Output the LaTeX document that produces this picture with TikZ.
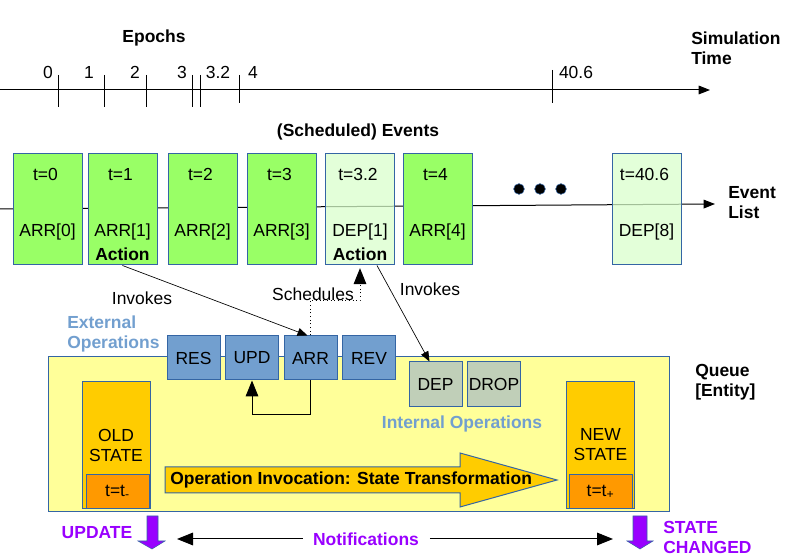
\documentclass[tikz,border=0pt]{standalone}
\usepackage{fontspec}
\setmainfont{Liberation Sans}
\usetikzlibrary{arrows.meta,positioning,calc}

\definecolor{edge}{HTML}{3465A4}
\definecolor{evgreen}{HTML}{99FF66}
\definecolor{palegreen}{HTML}{D9FFCC}
\definecolor{opblue}{HTML}{729FCF}
\definecolor{opgrey}{HTML}{C0CFB8}
\definecolor{queuey}{HTML}{FFFF99}
\definecolor{stateyel}{HTML}{FFCC00}
\definecolor{stateor}{HTML}{FF9900}
\definecolor{purp}{HTML}{9900FF}

\newcommand\dfont{\fontsize{13.1}{15}\selectfont}

\begin{document}
\begin{tikzpicture}[
    x=0.75pt, y=-0.75pt,
    every node/.style={font=\dfont, inner sep=0pt},
    bold/.style={font=\dfont\bfseries},
    evbox/.style={rectangle, draw=edge, line width=0.75pt, fill=evgreen, minimum width=51.75pt, minimum height=83.25pt},
    evpale/.style={evbox, fill=palegreen, fill opacity=0.75, text opacity=1},
    opbox/.style={rectangle, draw=edge, line width=0.75pt, fill=opblue, minimum width=39.75pt, minimum height=33pt},
    inop/.style={opbox, fill=opgrey, minimum height=33.75pt},
    statebox/.style={rectangle, draw=edge, line width=0.75pt, fill=stateyel, minimum width=51pt, minimum height=95.25pt},
    tbox/.style={rectangle, draw=edge, line width=0.75pt, fill=stateor, minimum width=47.25pt, minimum height=25.5pt},
    opstext/.style={font=\dfont\bfseries, text=opblue, align=left},
    note/.style={font=\dfont\bfseries, text=purp, align=left},
    arrow/.style={-{Triangle[length=7.5pt,width=6pt]}, line width=0.5pt},
    bigarrow/.style={-{Triangle[length=12pt,width=9.5pt]}, line width=0.75pt},
    timearrow/.style={-{Triangle[length=8.5pt,width=6.5pt]}, line width=0.75pt}
]
\useasboundingbox (0,0) rectangle (794,559);

% --- Simulation time ---
\node[bold] (epochs) at (154,38) {Epochs};
\node[bold, align=left, anchor=west] (simtime) at (691,48) {Simulation\\Time};
\coordinate (tl0) at (0,90);
\coordinate (tl1) at (710,90);
\draw[timearrow] (tl0) -- (tl1);
\foreach \x/\a/\b in {58/75/107, 104/75/107, 146/75/107, 192/75/107, 200/75/107, 239/75/103, 552/70/103}
    \draw[line width=0.75pt] (\x,\a) -- (\x,\b);
\foreach \lbl/\x [count=\i] in {0/48, 1/89, 2/135, 3/182, 3.2/218, 4/253, 40.6/576}
    \node (ep\i) at (\x,72) {\lbl};

% --- Event list ---
\node[bold] (evtitle) at (358,132) {(Scheduled) Events};
\coordinate (el0) at (0,209);
\coordinate (el1) at (715,204);
\draw[timearrow] (el0) -- (el1);
\node[bold, align=left, anchor=west] (evlist) at (728,203) {Event\\List};

\foreach \n/\x/\st/\t/\e in {ev0/47.5/evbox/0/ARR[0], ev1/122.5/evbox/1/ARR[1], ev2/202.5/evbox/2/ARR[2], ev3/281.5/evbox/3/ARR[3], ev4/360/evpale/3.2/DEP[1], ev5/437.5/evbox/4/ARR[4], ev6/646.5/evpale/40.6/DEP[8]} {
    \node[\st] (\n) at (\x,209.5) {};
    \node (\n-t) at ($(\n.north)+(-2,21)$) {t=\t};
    \node (\n-l) at ($(\n.north)+(0,78)$) {\e};
}
\node[bold] (act1) at ($(ev1.north)+(0,101)$) {Action};
\node[bold] (act4) at ($(ev4.north)+(0,101)$) {Action};

\foreach \x [count=\i] in {519,540,561}
    \node[circle, fill=black, draw=edge, minimum size=8pt] (dot\i) at (\x,189) {};

% --- Queue entity ---
\node[rectangle, draw=edge, line width=0.75pt, fill=queuey, minimum width=465.75pt, minimum height=116.25pt] (queue) at (358.5,434.5) {};
\node[bold, align=left, anchor=west] (qlabel) at (695,382) {Queue\\{[Entity]}};

\node[opstext, anchor=west] (extops) at (67,334) {External\\Operations};
\foreach \n/\x/\s in {res/193.5/RES, upd/252/UPD, aop/310.5/ARR, rev/369/REV}
    \node[opbox] (\n) at (\x,358) {\s};

\node[inop] (dep) at (435.5,384.5) {DEP};
\node[inop] (drop) at (494,384.5) {DROP};
\node[opstext] (intops) at (462,424) {Internal Operations};

% states
\node[statebox] (old) at (116,445.5) {};
\node[align=center] (oldtxt) at (116,445) {OLD\\STATE};
\node[tbox] (oldt) at (117.5,492) {t=t\textsubscript{-}};
\node[statebox] (new) at (600.5,445.5) {};
\node[align=center] (newtxt) at (600.5,445) {NEW\\STATE};
\node[tbox] (newt) at (600.5,492) {t=t\textsubscript{+}};

% transformation arrow
\draw[draw=edge, line width=0.75pt, fill=stateyel] (165,467) -- (460,467) -- (460,453) -- (557,480) -- (460,507) -- (460,493) -- (165,493) -- cycle;
\node[bold, anchor=west] (flowtxt) at (170,480) {Operation Invocation: State Transformation};

% --- Connectors ---
\draw[arrow] (ev1.south) -- ($(aop.north)+(-3,0)$);
\node (inv1) at (142,298) {Invokes};
\draw[bigarrow, dotted, shorten >=2pt] (aop.north) -- ++(0,-35) -| (ev4.south);
\node (sched) at (313,294) {Schedules};
\draw[arrow] ($(ev4.south)+(17,0)$) -- ($(dep.north)+(-6,0)$);
\node (inv2) at (430,289) {Invokes};
\draw[bigarrow] (aop.south) -- ++(0,34) -| (upd.south);

% --- Notifications ---
\node[note] (updlbl) at (97,533) {UPDATE};
\draw[draw=edge, fill=purp] (147,516) -- (158,516) -- (158,541) -- (165,541) -- (152,549) -- (138,541) -- (147,541) -- cycle;
\node[note, anchor=west] (chg) at (663,537) {STATE\\CHANGED};
\draw[draw=edge, fill=purp] (633,516) -- (647,516) -- (647,541) -- (653,541) -- (640,549) -- (627,541) -- (633,541) -- cycle;

\node[note] (notif) at (366,539) {Notifications};
\coordinate (nl) at (177,539);
\coordinate (nr) at (613,539);
\draw[bigarrow] ([xshift=-7.5pt]notif.west) -- (nl);
\draw[bigarrow] ([xshift=8pt]notif.east) -- (nr);

\end{tikzpicture}
\end{document}
